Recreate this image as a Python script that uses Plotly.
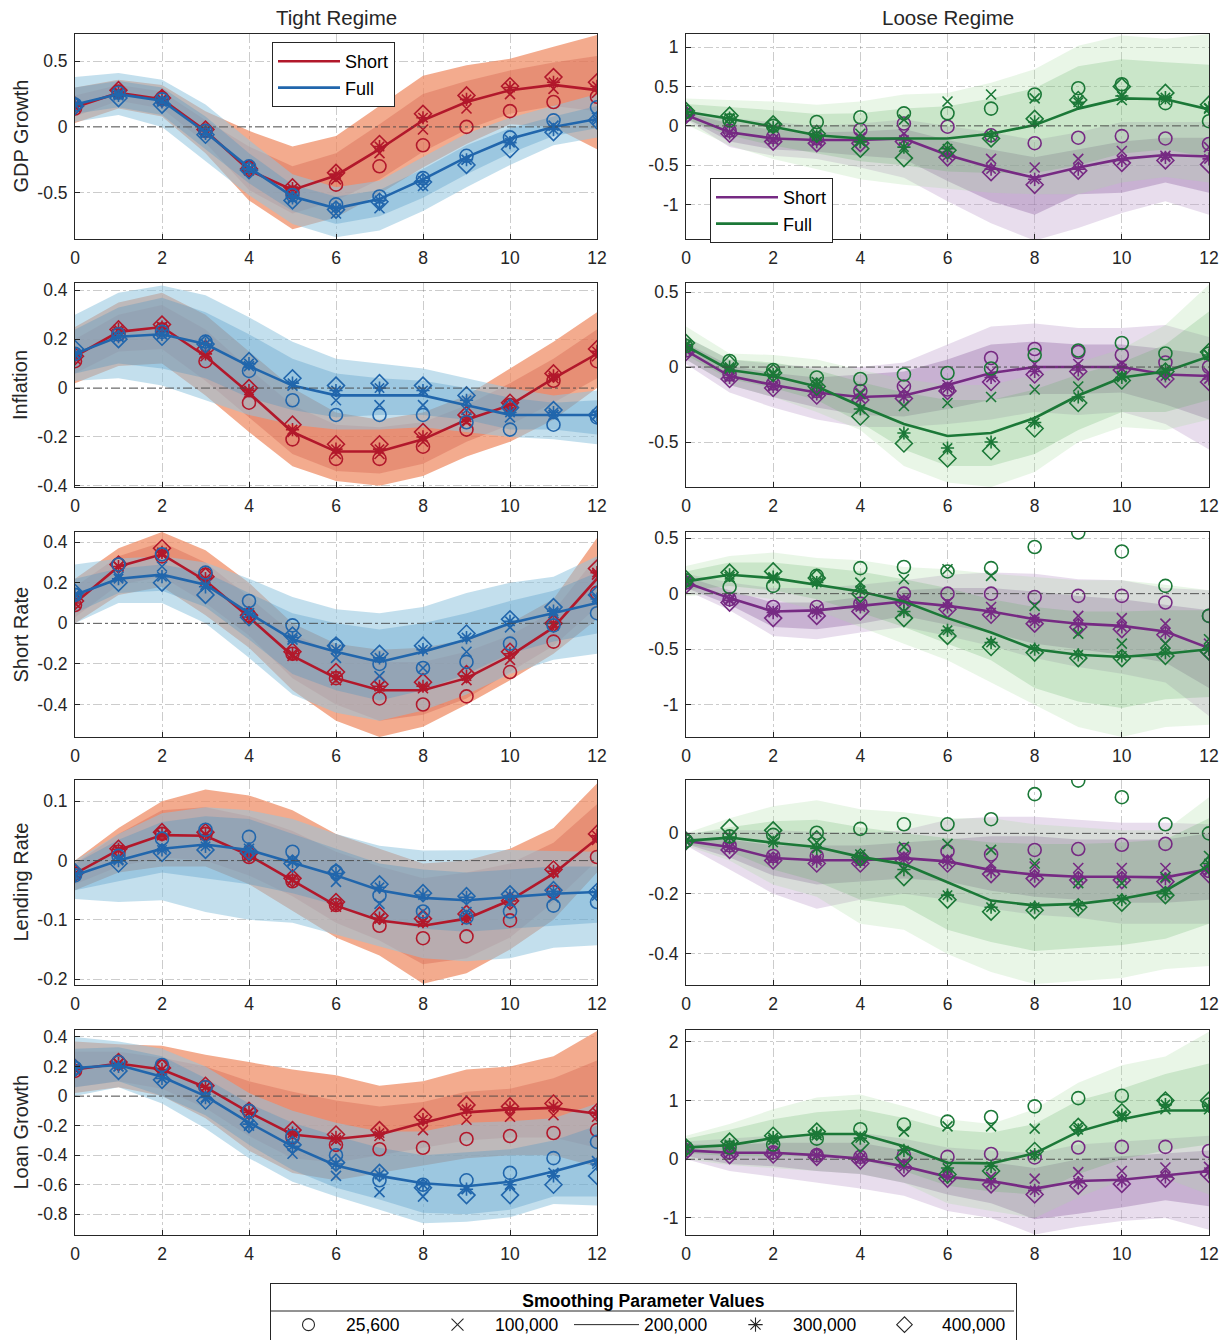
import plotly.graph_objects as go
from plotly.subplots import make_subplots

horizon = list(range(13))
x_ticks = [0, 2, 4, 6, 8, 10, 12]

# ---------------- GDP Growth, Tight ----------------
gdp_t_s_line = [0.15, 0.26, 0.21, -0.03, -0.33, -0.48, -0.37, -0.17, 0.05, 0.19, 0.28, 0.32, 0.28]
gdp_t_s_c = [0.14, 0.27, 0.22, -0.03, -0.31, -0.50, -0.44, -0.30, -0.14, 0.00, 0.12, 0.19, 0.23]
gdp_t_s_x = [0.15, 0.26, 0.21, -0.03, -0.33, -0.49, -0.40, -0.20, -0.02, 0.14, 0.25, 0.29, 0.26]
gdp_t_s_a = [0.16, 0.27, 0.21, -0.03, -0.33, -0.47, -0.36, -0.15, 0.07, 0.21, 0.30, 0.34, 0.31]
gdp_t_s_d = [0.16, 0.28, 0.22, -0.02, -0.32, -0.46, -0.35, -0.13, 0.10, 0.24, 0.31, 0.38, 0.34]
gdp_t_s_hi90 = [0.30, 0.36, 0.32, 0.12, -0.03, -0.15, -0.07, 0.16, 0.39, 0.47, 0.52, 0.61, 0.70]
gdp_t_s_hi68 = [0.24, 0.32, 0.27, 0.05, -0.15, -0.30, -0.20, 0.02, 0.25, 0.35, 0.43, 0.49, 0.54]
gdp_t_s_lo68 = [0.08, 0.20, 0.14, -0.12, -0.48, -0.66, -0.56, -0.40, -0.19, -0.02, 0.10, 0.16, 0.12]
gdp_t_s_lo90 = [0.03, 0.14, 0.08, -0.20, -0.56, -0.78, -0.69, -0.51, -0.31, -0.13, 0.02, 0.00, -0.17]

gdp_t_f_line = [0.17, 0.25, 0.20, -0.04, -0.31, -0.53, -0.62, -0.55, -0.40, -0.23, -0.09, 0.00, 0.06]
gdp_t_f_c = [0.17, 0.26, 0.21, -0.03, -0.30, -0.52, -0.59, -0.53, -0.39, -0.22, -0.08, 0.05, 0.15]
gdp_t_f_x = [0.17, 0.25, 0.20, -0.04, -0.32, -0.55, -0.66, -0.62, -0.45, -0.25, -0.10, 0.01, 0.07]
gdp_t_f_a = [0.17, 0.24, 0.19, -0.05, -0.32, -0.54, -0.62, -0.56, -0.41, -0.25, -0.12, -0.02, 0.05]
gdp_t_f_d = [0.16, 0.22, 0.17, -0.06, -0.33, -0.56, -0.63, -0.57, -0.42, -0.29, -0.17, -0.04, 0.05]
gdp_t_f_hi90 = [0.38, 0.41, 0.36, 0.17, -0.10, -0.36, -0.46, -0.41, -0.23, -0.05, 0.07, 0.16, 0.25]
gdp_t_f_hi68 = [0.30, 0.35, 0.30, 0.08, -0.20, -0.44, -0.53, -0.48, -0.32, -0.14, -0.01, 0.08, 0.16]
gdp_t_f_lo68 = [0.10, 0.15, 0.09, -0.17, -0.43, -0.64, -0.74, -0.68, -0.54, -0.36, -0.20, -0.07, -0.01]
gdp_t_f_lo90 = [0.04, 0.09, 0.00, -0.26, -0.52, -0.74, -0.84, -0.79, -0.64, -0.46, -0.29, -0.14, -0.08]

# ---------------- GDP Growth, Loose ----------------
gdp_l_s_line = [0.14, -0.08, -0.16, -0.18, -0.18, -0.16, -0.37, -0.53, -0.66, -0.53, -0.42, -0.37, -0.39]
gdp_l_s_c = [0.14, -0.06, -0.14, -0.16, -0.05, 0.03, -0.01, -0.12, -0.22, -0.15, -0.13, -0.16, -0.23]
gdp_l_s_x = [0.14, -0.08, -0.17, -0.18, -0.15, -0.10, -0.33, -0.42, -0.53, -0.42, -0.32, -0.38, -0.27]
gdp_l_s_a = [0.14, -0.09, -0.18, -0.20, -0.20, -0.18, -0.38, -0.55, -0.68, -0.55, -0.44, -0.40, -0.42]
gdp_l_s_d = [0.14, -0.10, -0.20, -0.22, -0.22, -0.20, -0.40, -0.59, -0.75, -0.57, -0.47, -0.44, -0.49]
gdp_l_s_hi90 = [0.20, 0.10, 0.05, 0.00, 0.03, 0.08, 0.00, -0.08, -0.18, -0.08, 0.05, 0.05, 0.05]
gdp_l_s_hi68 = [0.17, 0.03, -0.05, -0.08, -0.07, -0.04, -0.18, -0.30, -0.40, -0.30, -0.20, -0.15, -0.15]
gdp_l_s_lo68 = [0.10, -0.20, -0.30, -0.33, -0.38, -0.42, -0.70, -0.96, -1.13, -0.87, -0.85, -0.72, -0.85]
gdp_l_s_lo90 = [0.08, -0.27, -0.38, -0.42, -0.53, -0.66, -0.96, -1.24, -1.46, -1.30, -1.11, -0.96, -1.13]

gdp_l_f_line = [0.18, 0.09, -0.01, -0.12, -0.16, -0.16, -0.16, -0.10, 0.01, 0.22, 0.35, 0.34, 0.21]
gdp_l_f_c = [0.18, 0.07, 0.00, 0.05, 0.11, 0.16, 0.16, 0.22, 0.40, 0.48, 0.53, 0.29, 0.06]
gdp_l_f_x = [0.18, 0.09, -0.02, -0.10, -0.10, 0.08, 0.31, 0.40, 0.35, 0.33, 0.33, 0.33, 0.22]
gdp_l_f_a = [0.18, 0.10, -0.02, -0.13, -0.20, -0.27, -0.29, -0.13, 0.05, 0.30, 0.38, 0.36, 0.23]
gdp_l_f_d = [0.19, 0.13, 0.02, -0.10, -0.29, -0.41, -0.31, -0.16, 0.09, 0.33, 0.50, 0.42, 0.27]
gdp_l_f_hi90 = [0.35, 0.33, 0.31, 0.27, 0.31, 0.40, 0.42, 0.55, 0.72, 1.02, 1.15, 1.11, 1.17]
gdp_l_f_hi68 = [0.28, 0.24, 0.20, 0.15, 0.16, 0.22, 0.25, 0.35, 0.48, 0.76, 0.85, 0.81, 0.78]
gdp_l_f_lo68 = [0.08, -0.12, -0.25, -0.35, -0.45, -0.50, -0.58, -0.60, -0.60, -0.50, -0.35, -0.30, -0.40]
gdp_l_f_lo90 = [0.02, -0.25, -0.42, -0.55, -0.68, -0.75, -0.80, -0.85, -0.87, -0.87, -0.72, -0.65, -0.72]

# ---------------- Inflation, Tight ----------------
inf_t_s_line = [0.13, 0.23, 0.25, 0.13, -0.02, -0.18, -0.26, -0.26, -0.21, -0.13, -0.07, 0.04, 0.14]
inf_t_s_c = [0.11, 0.22, 0.24, 0.11, -0.06, -0.21, -0.29, -0.29, -0.24, -0.17, -0.07, 0.03, 0.11]
inf_t_s_x = [0.12, 0.23, 0.25, 0.13, -0.02, -0.18, -0.27, -0.27, -0.22, -0.14, -0.08, 0.04, 0.13]
inf_t_s_a = [0.13, 0.24, 0.25, 0.14, -0.01, -0.17, -0.25, -0.25, -0.20, -0.12, -0.07, 0.05, 0.15]
inf_t_s_d = [0.13, 0.24, 0.26, 0.16, 0.00, -0.15, -0.23, -0.23, -0.18, -0.11, -0.06, 0.06, 0.16]
inf_t_s_hi90 = [0.25, 0.35, 0.39, 0.30, 0.15, 0.00, -0.10, -0.13, -0.10, -0.03, 0.08, 0.19, 0.31]
inf_t_s_hi68 = [0.20, 0.30, 0.34, 0.24, 0.08, -0.07, -0.15, -0.16, -0.14, -0.07, 0.02, 0.12, 0.24]
inf_t_s_lo68 = [0.06, 0.15, 0.16, 0.03, -0.12, -0.27, -0.34, -0.35, -0.31, -0.22, -0.15, -0.06, 0.04]
inf_t_s_lo90 = [0.02, 0.09, 0.10, -0.03, -0.18, -0.32, -0.38, -0.40, -0.36, -0.28, -0.22, -0.13, 0.00]

inf_t_f_line = [0.14, 0.21, 0.22, 0.18, 0.09, 0.01, -0.03, -0.03, -0.03, -0.07, -0.11, -0.11, -0.11]
inf_t_f_c = [0.14, 0.22, 0.23, 0.19, 0.07, -0.05, -0.11, -0.11, -0.11, -0.14, -0.17, -0.15, -0.12]
inf_t_f_x = [0.14, 0.21, 0.22, 0.18, 0.09, 0.01, -0.05, -0.07, -0.07, -0.09, -0.12, -0.11, -0.11]
inf_t_f_a = [0.14, 0.21, 0.22, 0.18, 0.10, 0.02, -0.01, 0.00, -0.01, -0.05, -0.10, -0.10, -0.11]
inf_t_f_d = [0.16, 0.20, 0.21, 0.18, 0.11, 0.04, 0.01, 0.02, 0.01, -0.03, -0.08, -0.09, -0.11]
inf_t_f_hi90 = [0.30, 0.39, 0.42, 0.38, 0.29, 0.19, 0.12, 0.10, 0.08, 0.04, 0.00, -0.03, -0.01]
inf_t_f_hi68 = [0.24, 0.33, 0.37, 0.31, 0.22, 0.12, 0.06, 0.04, 0.03, 0.00, -0.04, -0.06, -0.05]
inf_t_f_lo68 = [0.06, 0.10, 0.08, 0.04, -0.04, -0.09, -0.12, -0.11, -0.11, -0.13, -0.17, -0.17, -0.19]
inf_t_f_lo90 = [0.03, 0.04, 0.01, -0.05, -0.11, -0.15, -0.17, -0.17, -0.16, -0.18, -0.20, -0.21, -0.23]

# ---------------- Inflation, Loose ----------------
inf_l_s_line = [0.11, -0.06, -0.12, -0.17, -0.20, -0.19, -0.12, -0.04, 0.00, 0.00, 0.00, -0.05, -0.06]
inf_l_s_c = [0.11, -0.05, -0.11, -0.16, -0.16, -0.13, -0.15, 0.06, 0.12, 0.10, 0.08, 0.03, 0.00]
inf_l_s_x = [0.11, -0.06, -0.12, -0.17, -0.17, -0.15, -0.12, -0.03, 0.02, 0.02, 0.02, -0.03, -0.04]
inf_l_s_a = [0.11, -0.07, -0.13, -0.18, -0.21, -0.20, -0.14, -0.07, -0.03, -0.02, -0.01, -0.06, -0.08]
inf_l_s_d = [0.10, -0.08, -0.14, -0.19, -0.22, -0.21, -0.16, -0.10, -0.05, -0.03, -0.02, -0.08, -0.10]
inf_l_s_hi90 = [0.20, 0.05, 0.02, 0.00, 0.00, 0.03, 0.15, 0.27, 0.29, 0.26, 0.26, 0.28, 0.20]
inf_l_s_hi68 = [0.16, 0.01, -0.04, -0.07, -0.05, -0.03, 0.05, 0.15, 0.17, 0.15, 0.15, 0.12, 0.08]
inf_l_s_lo68 = [0.05, -0.12, -0.20, -0.27, -0.32, -0.33, -0.28, -0.22, -0.18, -0.18, -0.17, -0.25, -0.35]
inf_l_s_lo90 = [0.02, -0.17, -0.27, -0.35, -0.40, -0.40, -0.38, -0.35, -0.30, -0.32, -0.30, -0.38, -0.55]

inf_l_f_line = [0.14, -0.02, -0.06, -0.13, -0.26, -0.38, -0.46, -0.44, -0.34, -0.19, -0.07, -0.03, 0.07]
inf_l_f_c = [0.14, 0.04, -0.02, -0.07, -0.08, -0.05, -0.04, -0.01, 0.08, 0.11, 0.16, 0.09, 0.09]
inf_l_f_x = [0.14, -0.01, -0.04, -0.10, -0.18, -0.26, -0.24, -0.20, -0.15, -0.13, -0.06, -0.03, 0.08]
inf_l_f_a = [0.15, 0.00, -0.05, -0.12, -0.28, -0.44, -0.54, -0.50, -0.37, -0.20, -0.07, -0.02, 0.08]
inf_l_f_d = [0.16, 0.02, -0.04, -0.13, -0.33, -0.51, -0.61, -0.56, -0.41, -0.24, -0.09, -0.03, 0.10]
inf_l_f_hi90 = [0.27, 0.09, 0.08, 0.05, -0.02, -0.08, -0.12, -0.12, -0.05, 0.03, 0.12, 0.28, 0.55]
inf_l_f_hi68 = [0.20, 0.05, 0.03, -0.02, -0.10, -0.17, -0.22, -0.22, -0.15, -0.05, 0.03, 0.15, 0.37]
inf_l_f_lo68 = [0.08, -0.08, -0.14, -0.22, -0.37, -0.55, -0.66, -0.66, -0.58, -0.42, -0.30, -0.30, -0.22]
inf_l_f_lo90 = [0.05, -0.12, -0.20, -0.30, -0.42, -0.66, -0.77, -0.80, -0.70, -0.50, -0.40, -0.42, -0.35]

# ---------------- Short Rate, Tight ----------------
sr_t_s_line = [0.10, 0.28, 0.34, 0.21, 0.03, -0.16, -0.27, -0.33, -0.33, -0.27, -0.16, -0.02, 0.22]
sr_t_s_c = [0.09, 0.29, 0.33, 0.24, 0.04, -0.15, -0.27, -0.37, -0.40, -0.36, -0.24, -0.09, 0.15]
sr_t_s_x = [0.10, 0.28, 0.34, 0.21, 0.03, -0.16, -0.28, -0.31, -0.32, -0.28, -0.18, -0.01, 0.24]
sr_t_s_a = [0.10, 0.28, 0.35, 0.22, 0.03, -0.15, -0.26, -0.31, -0.31, -0.26, -0.15, 0.00, 0.25]
sr_t_s_d = [0.11, 0.29, 0.37, 0.23, 0.04, -0.14, -0.24, -0.30, -0.29, -0.25, -0.14, 0.00, 0.27]
sr_t_s_hi90 = [0.22, 0.37, 0.45, 0.36, 0.20, 0.00, -0.10, -0.13, -0.12, -0.08, 0.00, 0.12, 0.42]
sr_t_s_hi68 = [0.18, 0.33, 0.40, 0.30, 0.13, -0.05, -0.15, -0.19, -0.19, -0.14, -0.06, 0.06, 0.33]
sr_t_s_lo68 = [0.03, 0.19, 0.23, 0.10, -0.06, -0.27, -0.40, -0.48, -0.45, -0.37, -0.24, -0.11, 0.08]
sr_t_s_lo90 = [0.00, 0.14, 0.18, 0.04, -0.12, -0.33, -0.48, -0.56, -0.51, -0.40, -0.28, -0.15, 0.02]

sr_t_f_line = [0.14, 0.22, 0.24, 0.19, 0.05, -0.08, -0.14, -0.19, -0.14, -0.08, 0.00, 0.05, 0.10]
sr_t_f_c = [0.14, 0.29, 0.34, 0.25, 0.11, -0.01, -0.11, -0.20, -0.22, -0.19, -0.10, -0.01, 0.05]
sr_t_f_x = [0.14, 0.23, 0.28, 0.19, 0.05, -0.08, -0.17, -0.26, -0.22, -0.14, -0.02, 0.05, 0.13]
sr_t_f_a = [0.14, 0.22, 0.23, 0.18, 0.05, -0.07, -0.13, -0.17, -0.13, -0.07, 0.01, 0.06, 0.12]
sr_t_f_d = [0.15, 0.20, 0.20, 0.14, 0.03, -0.06, -0.11, -0.15, -0.11, -0.05, 0.02, 0.08, 0.14]
sr_t_f_hi90 = [0.29, 0.32, 0.33, 0.30, 0.22, 0.13, 0.07, 0.05, 0.08, 0.15, 0.20, 0.23, 0.33]
sr_t_f_hi68 = [0.22, 0.27, 0.29, 0.25, 0.15, 0.05, 0.00, -0.03, 0.00, 0.05, 0.11, 0.16, 0.25]
sr_t_f_lo68 = [0.05, 0.15, 0.16, 0.08, -0.08, -0.25, -0.33, -0.38, -0.33, -0.25, -0.15, -0.09, -0.05]
sr_t_f_lo90 = [0.00, 0.10, 0.10, 0.00, -0.17, -0.35, -0.44, -0.48, -0.43, -0.35, -0.25, -0.18, -0.15]

# ---------------- Short Rate, Loose ----------------
sr_l_s_line = [0.10, -0.04, -0.16, -0.15, -0.11, -0.07, -0.11, -0.16, -0.23, -0.27, -0.29, -0.34, -0.49]
sr_l_s_c = [0.10, -0.05, -0.12, -0.12, -0.09, 0.00, 0.00, 0.00, -0.03, -0.02, -0.02, -0.08, -0.20]
sr_l_s_x = [0.10, -0.05, -0.15, -0.14, -0.10, -0.05, -0.08, -0.12, -0.22, -0.20, -0.22, -0.27, -0.45]
sr_l_s_a = [0.09, -0.06, -0.17, -0.17, -0.12, -0.07, -0.12, -0.17, -0.25, -0.28, -0.30, -0.35, -0.50]
sr_l_s_d = [0.08, -0.08, -0.22, -0.20, -0.16, -0.09, -0.14, -0.19, -0.27, -0.30, -0.32, -0.37, -0.52]
sr_l_s_hi90 = [0.18, 0.10, 0.05, 0.05, 0.08, 0.12, 0.17, 0.19, 0.18, 0.13, 0.12, 0.05, 0.03]
sr_l_s_hi68 = [0.15, 0.03, -0.08, -0.08, -0.03, 0.03, 0.05, 0.05, 0.02, -0.02, -0.05, -0.10, -0.15]
sr_l_s_lo68 = [0.05, -0.10, -0.30, -0.32, -0.27, -0.20, -0.28, -0.35, -0.45, -0.50, -0.55, -0.62, -0.85]
sr_l_s_lo90 = [0.03, -0.15, -0.38, -0.41, -0.35, -0.30, -0.38, -0.47, -0.58, -0.66, -0.72, -0.80, -1.10]

sr_l_f_line = [0.11, 0.17, 0.14, 0.08, 0.02, -0.07, -0.22, -0.35, -0.50, -0.55, -0.57, -0.54, -0.50]
sr_l_f_c = [0.12, 0.06, 0.07, 0.16, 0.23, 0.24, 0.20, 0.23, 0.42, 0.55, 0.38, 0.07, -0.20]
sr_l_f_x = [0.12, 0.15, 0.14, 0.12, 0.10, 0.13, 0.22, 0.16, -0.11, -0.36, -0.45, -0.45, -0.41]
sr_l_f_a = [0.12, 0.17, 0.15, 0.10, 0.03, -0.16, -0.33, -0.44, -0.50, -0.55, -0.56, -0.53, -0.50]
sr_l_f_d = [0.13, 0.19, 0.20, 0.14, 0.00, -0.22, -0.38, -0.48, -0.53, -0.58, -0.58, -0.56, -0.52]
sr_l_f_hi90 = [0.25, 0.34, 0.37, 0.32, 0.30, 0.24, 0.22, 0.18, 0.15, 0.12, 0.12, 0.08, 0.03]
sr_l_f_hi68 = [0.20, 0.28, 0.28, 0.24, 0.20, 0.13, 0.05, -0.05, -0.12, -0.16, -0.16, -0.15, -0.15]
sr_l_f_lo68 = [0.03, 0.07, 0.03, -0.05, -0.17, -0.30, -0.45, -0.60, -0.85, -0.97, -1.03, -0.95, -0.93]
sr_l_f_lo90 = [-0.02, 0.00, -0.05, -0.15, -0.30, -0.45, -0.60, -0.80, -1.00, -1.20, -1.29, -1.20, -1.18]

# ---------------- Lending Rate, Tight ----------------
lr_t_s_line = [-0.022, 0.018, 0.043, 0.042, 0.009, -0.033, -0.076, -0.101, -0.110, -0.098, -0.067, -0.022, 0.037]
lr_t_s_c = [-0.022, 0.015, 0.045, 0.045, 0.006, -0.035, -0.075, -0.110, -0.131, -0.128, -0.101, -0.053, 0.006]
lr_t_s_x = [-0.022, 0.017, 0.043, 0.043, 0.009, -0.033, -0.078, -0.098, -0.104, -0.100, -0.070, -0.020, 0.035]
lr_t_s_a = [-0.022, 0.019, 0.044, 0.044, 0.010, -0.031, -0.073, -0.097, -0.103, -0.094, -0.068, -0.018, 0.042]
lr_t_s_d = [-0.021, 0.020, 0.048, 0.048, 0.012, -0.030, -0.070, -0.093, -0.098, -0.090, -0.068, -0.015, 0.045]
lr_t_s_hi90 = [0.000, 0.055, 0.100, 0.120, 0.110, 0.085, 0.045, 0.020, -0.005, 0.000, 0.020, 0.055, 0.130]
lr_t_s_hi68 = [-0.005, 0.045, 0.085, 0.090, 0.075, 0.050, 0.015, -0.010, -0.030, -0.020, -0.005, 0.030, 0.095]
lr_t_s_lo68 = [-0.040, -0.010, 0.005, 0.000, -0.025, -0.060, -0.105, -0.135, -0.175, -0.165, -0.130, -0.070, 0.000]
lr_t_s_lo90 = [-0.050, -0.020, -0.010, -0.010, -0.040, -0.085, -0.130, -0.160, -0.208, -0.190, -0.150, -0.100, -0.020]

lr_t_f_line = [-0.025, 0.000, 0.020, 0.027, 0.018, -0.003, -0.025, -0.050, -0.063, -0.067, -0.062, -0.056, -0.053]
lr_t_f_c = [-0.025, 0.008, 0.037, 0.052, 0.040, 0.015, -0.019, -0.059, -0.086, -0.096, -0.086, -0.076, -0.070]
lr_t_f_x = [-0.025, 0.002, 0.022, 0.030, 0.020, 0.000, -0.036, -0.073, -0.086, -0.087, -0.070, -0.062, -0.059]
lr_t_f_a = [-0.024, 0.000, 0.018, 0.024, 0.017, -0.002, -0.022, -0.045, -0.058, -0.062, -0.059, -0.052, -0.053]
lr_t_f_d = [-0.020, -0.005, 0.013, 0.018, 0.015, -0.005, -0.020, -0.040, -0.055, -0.060, -0.057, -0.050, -0.053]
lr_t_f_hi90 = [0.000, 0.045, 0.080, 0.090, 0.085, 0.070, 0.045, 0.025, 0.017, 0.018, 0.018, 0.016, 0.015]
lr_t_f_hi68 = [-0.005, 0.035, 0.065, 0.075, 0.070, 0.045, 0.020, -0.005, -0.015, -0.020, -0.015, -0.010, -0.010]
lr_t_f_lo68 = [-0.050, -0.035, -0.020, -0.030, -0.040, -0.055, -0.075, -0.100, -0.115, -0.120, -0.115, -0.110, -0.105]
lr_t_f_lo90 = [-0.065, -0.070, -0.067, -0.087, -0.100, -0.105, -0.125, -0.145, -0.165, -0.170, -0.165, -0.147, -0.143]

# ---------------- Lending Rate, Loose ----------------
lr_l_s_line = [-0.025, -0.045, -0.082, -0.089, -0.089, -0.082, -0.093, -0.122, -0.137, -0.144, -0.144, -0.146, -0.118]
lr_l_s_c = [-0.025, -0.040, -0.075, -0.075, -0.085, -0.055, -0.060, -0.070, -0.055, -0.052, -0.038, -0.035, -0.125]
lr_l_s_x = [-0.025, -0.045, -0.080, -0.085, -0.085, -0.075, -0.085, -0.100, -0.110, -0.115, -0.115, -0.115, -0.120]
lr_l_s_a = [-0.025, -0.047, -0.085, -0.092, -0.093, -0.085, -0.096, -0.127, -0.142, -0.148, -0.148, -0.150, -0.125]
lr_l_s_d = [-0.025, -0.055, -0.090, -0.100, -0.100, -0.090, -0.100, -0.135, -0.150, -0.155, -0.155, -0.160, -0.135]
lr_l_s_hi90 = [0.000, 0.010, 0.010, 0.005, 0.000, 0.010, 0.045, 0.055, 0.055, 0.045, 0.035, 0.035, 0.030]
lr_l_s_hi68 = [-0.015, -0.020, -0.040, -0.040, -0.040, -0.030, -0.020, -0.010, -0.010, -0.020, -0.020, -0.020, 0.000]
lr_l_s_lo68 = [-0.035, -0.080, -0.140, -0.170, -0.160, -0.150, -0.160, -0.190, -0.210, -0.220, -0.230, -0.230, -0.220]
lr_l_s_lo90 = [-0.040, -0.120, -0.200, -0.250, -0.220, -0.200, -0.220, -0.250, -0.270, -0.280, -0.300, -0.300, -0.300]

lr_l_f_line = [-0.025, -0.014, -0.031, -0.045, -0.078, -0.102, -0.162, -0.223, -0.239, -0.234, -0.217, -0.190, -0.107]
lr_l_f_c = [-0.025, -0.010, -0.005, 0.002, 0.015, 0.030, 0.030, 0.047, 0.130, 0.175, 0.120, 0.030, 0.000]
lr_l_f_x = [-0.025, -0.012, -0.020, -0.030, -0.070, -0.045, -0.035, -0.055, -0.100, -0.165, -0.165, -0.145, -0.075]
lr_l_f_a = [-0.025, -0.012, -0.030, -0.050, -0.080, -0.120, -0.205, -0.245, -0.245, -0.240, -0.220, -0.200, -0.100]
lr_l_f_d = [-0.025, 0.018, 0.010, -0.020, -0.080, -0.145, -0.220, -0.260, -0.255, -0.245, -0.230, -0.205, -0.105]
lr_l_f_hi90 = [0.000, 0.050, 0.090, 0.110, 0.080, 0.070, 0.050, 0.050, 0.030, 0.020, 0.010, 0.010, 0.120]
lr_l_f_hi68 = [-0.005, 0.020, 0.040, 0.045, 0.020, 0.000, -0.015, -0.030, -0.035, -0.035, -0.030, -0.020, 0.050]
lr_l_f_lo68 = [-0.035, -0.060, -0.120, -0.160, -0.220, -0.240, -0.320, -0.360, -0.390, -0.380, -0.370, -0.350, -0.300]
lr_l_f_lo90 = [-0.040, -0.090, -0.170, -0.210, -0.300, -0.320, -0.400, -0.460, -0.500, -0.490, -0.480, -0.450, -0.440]

# ---------------- Loan Growth, Tight ----------------
lg_t_s_line = [0.18, 0.22, 0.18, 0.06, -0.11, -0.26, -0.29, -0.26, -0.18, -0.11, -0.09, -0.08, -0.12]
lg_t_s_c = [0.17, 0.23, 0.20, 0.06, -0.10, -0.28, -0.33, -0.36, -0.35, -0.29, -0.27, -0.25, -0.23]
lg_t_s_x = [0.18, 0.22, 0.18, 0.06, -0.11, -0.27, -0.30, -0.27, -0.23, -0.16, -0.14, -0.13, -0.14]
lg_t_s_a = [0.18, 0.22, 0.18, 0.06, -0.11, -0.25, -0.28, -0.25, -0.16, -0.09, -0.08, -0.07, -0.11]
lg_t_s_d = [0.19, 0.23, 0.19, 0.07, -0.10, -0.23, -0.26, -0.23, -0.14, -0.06, -0.07, -0.05, -0.11]
lg_t_s_hi90 = [0.37, 0.35, 0.34, 0.28, 0.23, 0.18, 0.14, 0.07, 0.10, 0.18, 0.20, 0.27, 0.44]
lg_t_s_hi68 = [0.30, 0.30, 0.26, 0.20, 0.10, 0.03, -0.03, -0.07, -0.04, 0.03, 0.05, 0.12, 0.24]
lg_t_s_lo68 = [0.06, 0.10, 0.05, -0.08, -0.27, -0.42, -0.45, -0.40, -0.35, -0.30, -0.28, -0.28, -0.35]
lg_t_s_lo90 = [0.02, 0.06, 0.00, -0.15, -0.37, -0.52, -0.57, -0.52, -0.47, -0.42, -0.40, -0.40, -0.48]

lg_t_f_line = [0.19, 0.21, 0.13, 0.00, -0.18, -0.34, -0.47, -0.54, -0.59, -0.61, -0.58, -0.51, -0.43]
lg_t_f_c = [0.19, 0.23, 0.21, 0.06, -0.10, -0.27, -0.40, -0.57, -0.60, -0.57, -0.52, -0.42, -0.31]
lg_t_f_x = [0.19, 0.20, 0.12, -0.02, -0.20, -0.39, -0.54, -0.65, -0.68, -0.63, -0.60, -0.52, -0.44]
lg_t_f_a = [0.19, 0.20, 0.12, -0.01, -0.19, -0.34, -0.46, -0.53, -0.60, -0.63, -0.60, -0.54, -0.46]
lg_t_f_d = [0.19, 0.17, 0.11, -0.03, -0.19, -0.33, -0.45, -0.52, -0.62, -0.67, -0.67, -0.60, -0.54]
lg_t_f_hi90 = [0.40, 0.37, 0.32, 0.20, 0.02, -0.10, -0.18, -0.24, -0.24, -0.18, -0.17, -0.15, -0.05]
lg_t_f_hi68 = [0.32, 0.33, 0.27, 0.12, -0.05, -0.18, -0.27, -0.35, -0.40, -0.38, -0.36, -0.30, -0.20]
lg_t_f_lo68 = [0.06, 0.10, 0.00, -0.13, -0.33, -0.50, -0.62, -0.70, -0.79, -0.80, -0.77, -0.68, -0.68]
lg_t_f_lo90 = [0.00, 0.06, -0.05, -0.22, -0.42, -0.58, -0.68, -0.77, -0.86, -0.85, -0.82, -0.73, -0.74]

# ---------------- Loan Growth, Loose ----------------
lg_l_s_line = [0.15, 0.11, 0.11, 0.07, 0.01, -0.12, -0.30, -0.37, -0.50, -0.37, -0.35, -0.28, -0.20]
lg_l_s_c = [0.15, 0.12, 0.12, 0.07, 0.04, 0.07, 0.04, 0.09, 0.03, 0.20, 0.21, 0.21, 0.14]
lg_l_s_x = [0.15, 0.11, 0.11, 0.07, 0.02, -0.08, -0.25, -0.30, -0.33, -0.22, -0.20, -0.14, -0.13]
lg_l_s_a = [0.15, 0.10, 0.10, 0.06, 0.00, -0.13, -0.31, -0.40, -0.53, -0.40, -0.37, -0.30, -0.22]
lg_l_s_d = [0.14, 0.07, 0.08, 0.04, -0.02, -0.15, -0.33, -0.43, -0.60, -0.45, -0.42, -0.33, -0.25]
lg_l_s_hi90 = [0.30, 0.35, 0.40, 0.42, 0.45, 0.35, 0.20, 0.15, 0.10, 0.25, 0.30, 0.35, 0.40]
lg_l_s_hi68 = [0.25, 0.25, 0.28, 0.28, 0.28, 0.15, 0.00, -0.05, -0.15, 0.00, 0.05, 0.10, 0.15]
lg_l_s_lo68 = [0.05, -0.08, -0.12, -0.20, -0.25, -0.40, -0.60, -0.75, -1.02, -0.93, -0.82, -0.70, -0.80]
lg_l_s_lo90 = [0.00, -0.20, -0.30, -0.40, -0.50, -0.62, -0.88, -1.00, -1.28, -1.15, -1.05, -1.00, -1.20]

lg_l_f_line = [0.20, 0.24, 0.36, 0.43, 0.43, 0.22, -0.06, -0.07, 0.10, 0.47, 0.68, 0.83, 0.83]
lg_l_f_c = [0.20, 0.20, 0.25, 0.35, 0.51, 0.59, 0.64, 0.72, 0.90, 1.04, 1.08, 0.99, 0.93]
lg_l_f_x = [0.20, 0.23, 0.33, 0.41, 0.40, 0.47, 0.56, 0.56, 0.52, 0.55, 0.72, 0.85, 0.85]
lg_l_f_a = [0.20, 0.25, 0.37, 0.44, 0.36, 0.15, -0.15, -0.12, 0.08, 0.50, 0.75, 0.93, 0.90]
lg_l_f_d = [0.20, 0.30, 0.40, 0.47, 0.27, 0.02, -0.26, -0.20, 0.14, 0.55, 0.80, 1.00, 1.00]
lg_l_f_hi90 = [0.40, 0.60, 0.85, 1.05, 1.10, 0.90, 0.68, 0.60, 0.85, 1.30, 1.60, 1.75, 2.17]
lg_l_f_hi68 = [0.35, 0.50, 0.68, 0.80, 0.85, 0.70, 0.50, 0.45, 0.60, 1.00, 1.20, 1.45, 1.63]
lg_l_f_lo68 = [0.10, 0.05, 0.05, 0.05, 0.00, -0.20, -0.45, -0.55, -0.60, -0.25, 0.00, 0.15, 0.25]
lg_l_f_lo90 = [0.00, -0.10, -0.15, -0.20, -0.25, -0.40, -0.75, -0.88, -1.00, -0.65, -0.36, -0.33, -0.60]

# tick labels / axis setup
row_labels = ["GDP Growth", "Inflation", "Short Rate", "Lending Rate", "Loan Growth"]
col_titles = ["Tight Regime", "Loose Regime"]
smoothing_labels = ["25,600", "100,000", "200,000", "300,000", "400,000"]
y_ticks = [
    [-0.5, 0, 0.5], [-1, -0.5, 0, 0.5, 1],
    [-0.4, -0.2, 0, 0.2, 0.4], [-0.5, 0, 0.5],
    [-0.4, -0.2, 0, 0.2, 0.4], [-1, -0.5, 0, 0.5],
    [-0.2, -0.1, 0, 0.1], [-0.4, -0.2, 0],
    [-0.8, -0.6, -0.4, -0.2, 0, 0.2, 0.4], [-1, 0, 1, 2],
]
y_ranges = [
    [-0.854, 0.708], [-1.44, 1.17],
    [-0.405, 0.43], [-0.80, 0.56],
    [-0.56, 0.45], [-1.29, 0.555],
    [-0.21, 0.136], [-0.503, 0.177],
    [-0.94, 0.447], [-1.29, 2.20],
]

panels = [
    ("gdp_t", 1, 1), ("gdp_l", 1, 2), ("inf_t", 2, 1), ("inf_l", 2, 2),
    ("sr_t", 3, 1), ("sr_l", 3, 2), ("lr_t", 4, 1), ("lr_l", 4, 2),
    ("lg_t", 5, 1), ("lg_l", 5, 2),
]
G = globals()

STYLES = {
    ("t", "s"): dict(line="#B2182B", outer="rgba(239,138,98,0.72)", inner="rgba(214,96,77,0.38)", name="Short", legend="legend"),
    ("t", "f"): dict(line="#2166AC", outer="rgba(146,197,222,0.55)", inner="rgba(67,147,195,0.30)", name="Full", legend="legend"),
    ("l", "s"): dict(line="#762A83", outer="rgba(194,165,207,0.38)", inner="rgba(153,112,171,0.40)", name="Short", legend="legend2"),
    ("l", "f"): dict(line="#1B7837", outer="rgba(166,219,160,0.25)", inner="rgba(90,174,97,0.22)", name="Full", legend="legend2"),
}

FONT = "Liberation Sans, Arial, Helvetica, sans-serif"
fig = make_subplots(rows=5, cols=2)

def band(lo, hi, color, r, c):
    fig.add_trace(go.Scatter(x=horizon + horizon[::-1], y=hi + lo[::-1], fill="toself",
                             fillcolor=color, line=dict(width=0), mode="lines",
                             hoverinfo="skip", showlegend=False), row=r, col=c)

symbols = [("c", "circle-open", 13), ("x", "x-thin-open", 10), ("a", "asterisk-open", 11), ("d", "diamond-open", 13)]

for key, r, c in panels:
    reg = key.split("_")[1]
    for s in ("s", "f"):
        st = STYLES[(reg, s)]
        p = f"{key}_{s}_"
        band(G[p + "lo90"], G[p + "hi90"], st["outer"], r, c)
        band(G[p + "lo68"], G[p + "hi68"], st["inner"], r, c)
    for s in ("s", "f"):
        st = STYLES[(reg, s)]
        p = f"{key}_{s}_"
        show = (r == 1)
        fig.add_trace(go.Scatter(x=horizon, y=G[p + "line"], mode="lines",
                                 line=dict(color=st["line"], width=2.6), name=st["name"],
                                 showlegend=show, legend=st["legend"]), row=r, col=c)
        for suf, sym, size in symbols:
            fig.add_trace(go.Scatter(x=horizon, y=G[p + suf], mode="markers",
                                     marker=dict(symbol=sym, size=size, color=st["line"],
                                                 line=dict(color=st["line"], width=1.6)),
                                     showlegend=False), row=r, col=c)
    fig.add_hline(y=0, row=r, col=c, line=dict(color="rgba(70,70,70,0.85)", dash="dashdot", width=1))

# smoothing-parameter legend entries
leg_syms = [("circle-open", "markers"), ("x-thin-open", "markers"), (None, "lines"),
            ("asterisk-open", "markers"), ("diamond-open", "markers")]
for lab, (sym, mode) in zip(smoothing_labels, leg_syms):
    if mode == "lines":
        fig.add_trace(go.Scatter(x=[None], y=[None], mode="lines", line=dict(color="#262626", width=1),
                                 name=lab, legend="legend3"), row=1, col=1)
    else:
        fig.add_trace(go.Scatter(x=[None], y=[None], mode="markers",
                                 marker=dict(symbol=sym, size=12, color="#262626",
                                             line=dict(color="#262626", width=1.1)),
                                 name=lab, legend="legend3"), row=1, col=1)

W, H = 1230, 1340
col_px = [(75, 597), (686, 1209)]
row_px = [(34, 239), (283, 487), (532, 737), (780, 985), (1030, 1235)]

axis_common = dict(showline=True, mirror=True, linecolor="#262626", linewidth=1,
                   ticks="inside", ticklen=5, tickcolor="#262626",
                   showgrid=True, gridcolor="rgba(0,0,0,0.2)", griddash="dashdot", gridwidth=1,
                   zeroline=False, automargin=False,
                   tickfont=dict(family=FONT, size=17.5, color="#262626"))

for i, (key, r, c) in enumerate(panels):
    idx = (r - 1) * 2 + c
    xa = "xaxis" if idx == 1 else f"xaxis{idx}"
    ya = "yaxis" if idx == 1 else f"yaxis{idx}"
    x0, x1 = col_px[c - 1]
    y0, y1 = row_px[r - 1]
    fig.layout[xa].update(domain=[x0 / W, x1 / W], range=[0, 12], tickvals=x_ticks,
                          ticktext=[str(v) for v in x_ticks], ticklabelstandoff=3, **axis_common)
    fig.layout[ya].update(domain=[1 - y1 / H, 1 - y0 / H], range=y_ranges[i],
                          tickvals=y_ticks[i], ticktext=[f"{v:g}" for v in y_ticks[i]],
                          ticklabelstandoff=3, **axis_common)

for (y0, y1), lab in zip(row_px, row_labels):
    fig.add_annotation(text=lab, x=20 / W, y=1 - (y0 + y1) / 2 / H, xref="paper", yref="paper",
                       xanchor="center", yanchor="middle", textangle=-90, showarrow=False,
                       font=dict(family=FONT, size=20, color="#262626"))
for (x0, x1), lab in zip(col_px, col_titles):
    fig.add_annotation(text=lab, x=(x0 + x1) / 2 / W, y=1 - 18 / H, xref="paper", yref="paper",
                       xanchor="center", yanchor="middle", showarrow=False,
                       font=dict(family=FONT, size=20.5, color="#262626"))

fig.add_shape(type="line", xref="paper", yref="paper", x0=270 / W, x1=1014 / W,
              y0=1 - 1311 / H, y1=1 - 1311 / H, line=dict(color="#262626", width=1))

fig.update_layout(
    width=W, height=H, margin=dict(l=0, r=0, t=0, b=0, autoexpand=False),
    paper_bgcolor="white", plot_bgcolor="white",
    font=dict(family=FONT, size=17, color="#262626"),
    legend=dict(x=272 / W, y=1 - 42 / H, xanchor="left", yanchor="top", bgcolor="white",
                bordercolor="#262626", borderwidth=1, font=dict(family=FONT, size=18, color="#000"),
                tracegroupgap=0, itemwidth=62),
    legend2=dict(x=710 / W, y=1 - 178 / H, xanchor="left", yanchor="top", bgcolor="white",
                 bordercolor="#262626", borderwidth=1, font=dict(family=FONT, size=18, color="#000"),
                 tracegroupgap=0, itemwidth=62),
    legend3=dict(x=270 / W, y=1 - 1283 / H, xanchor="left", yanchor="top", orientation="h",
                 bgcolor="rgba(0,0,0,0)", bordercolor="#262626", borderwidth=1,
                 entrywidth=69, entrywidthmode="pixels", itemwidth=65,
                 title=dict(text="<b>Smoothing Parameter Values</b>", side="top center",
                            font=dict(family=FONT, size=17.5, color="#000")),
                 font=dict(family=FONT, size=17.5, color="#000")),
)

fig.write_html("out.html", config={"displayModeBar": False},
               post_script="document.body.style.margin='0px';document.body.style.overflow='hidden';")
